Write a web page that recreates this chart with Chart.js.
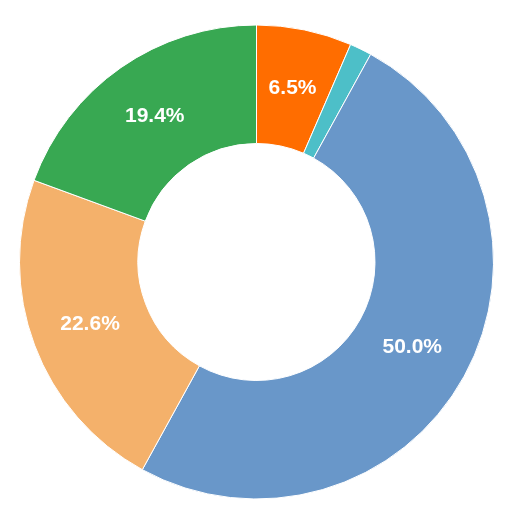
<!DOCTYPE html>
<html>
<head>
<meta charset="utf-8">
<script src="https://cdn.jsdelivr.net/npm/chart.js@4"></script>
<style>
  html, body { margin: 0; padding: 0; background: #fff; }
  canvas { display: block; }
</style>
</head>
<body>
<canvas id="chart" width="508" height="508"></canvas>
<script>
// slices clockwise from 12 o'clock
const labels = ['A', 'B', 'C', 'D', 'E']
const values = [6.5, 1.5, 50.0, 22.6, 19.4]
const shownLabels = ['6.5%', '', '50.0%', '22.6%', '19.4%']
const colors = ['#ff6d00', '#4dbfc8', '#6997c9', '#f4b16b', '#38a852']

// draw percent text at the middle of each ring segment
const sliceLabels = {
  id: 'sliceLabels',
  afterDatasetsDraw(chart) {
    const ctx = chart.ctx
    const meta = chart.getDatasetMeta(0)
    ctx.save()
    ctx.fillStyle = '#ffffff'
    ctx.font = 'bold 21px "Liberation Sans", Arial, sans-serif'
    ctx.textAlign = 'center'
    ctx.textBaseline = 'middle'
    meta.data.forEach((arc, i) => {
      const txt = shownLabels[i]
      if (!txt) return
      const p = arc.tooltipPosition()
      ctx.fillText(txt, p.x, p.y)
    })
    ctx.restore()
  }
}

new Chart(document.getElementById('chart'), {
  type: 'doughnut',
  data: {
    labels,
    datasets: [{
      data: values,
      backgroundColor: colors,
      borderColor: '#ffffff',
      borderWidth: 1
    }]
  },
  options: {
    responsive: false,
    animation: false,
    cutout: '50%',
    layout: { padding: { left: 19, right: 14, top: 24, bottom: 8 } },
    plugins: {
      legend: { display: false },
      tooltip: { enabled: false }
    }
  },
  plugins: [sliceLabels]
})
</script>
</body>
</html>
